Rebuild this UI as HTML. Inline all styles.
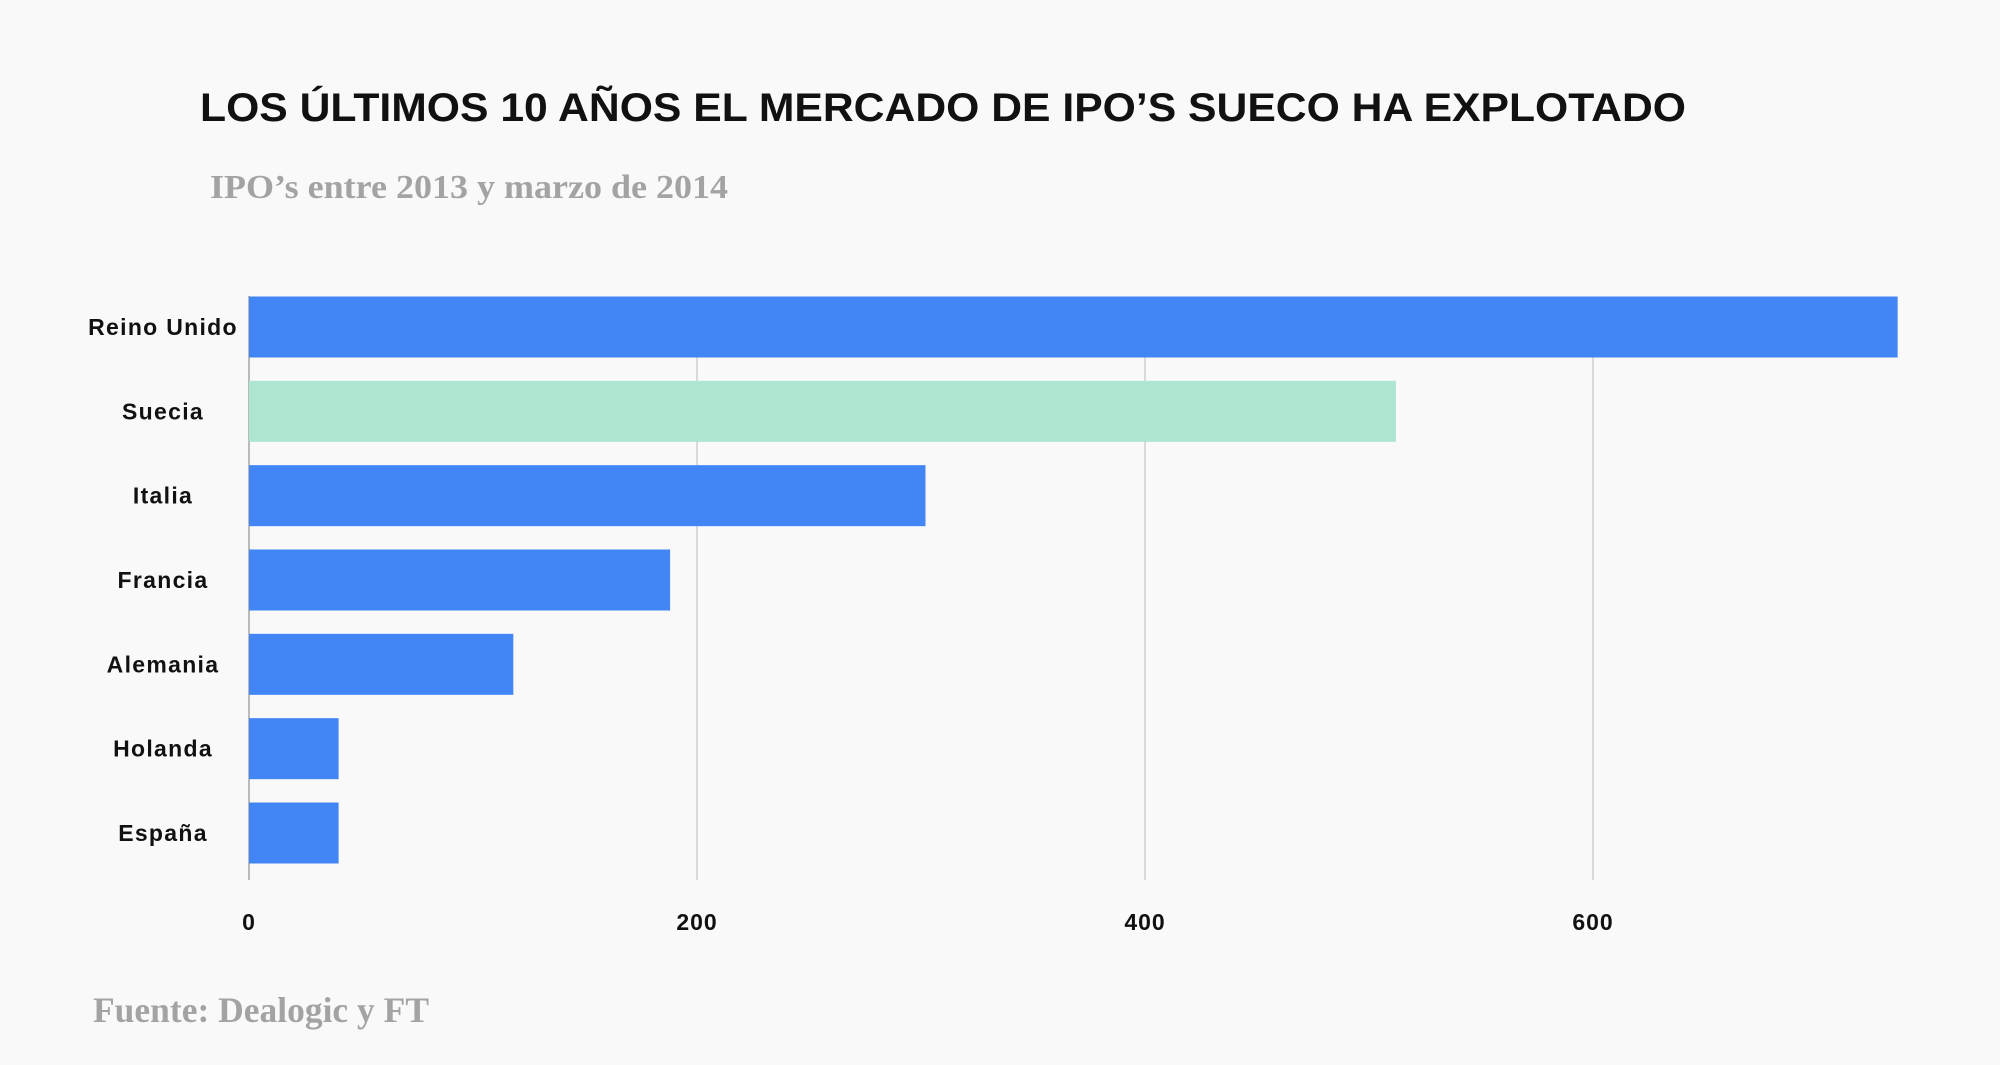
<!DOCTYPE html>
<html><head><meta charset="utf-8"><style>
html,body{margin:0;padding:0;background:#f9f9f9;}
svg{display:block}
</style></head><body>
<svg id="chart" width="2000" height="1065" viewBox="0 0 2000 1065" xmlns="http://www.w3.org/2000/svg">
<rect width="2000" height="1065" fill="#f9f9f9"/>
<text x="200" y="121" font-family="Liberation Sans, sans-serif" font-weight="bold" font-size="40" fill="#111" textLength="1486" lengthAdjust="spacingAndGlyphs">LOS ÚLTIMOS 10 AÑOS EL MERCADO DE IPO’S SUECO HA EXPLOTADO</text>
<text x="210" y="198" font-family="Liberation Serif, serif" font-weight="bold" font-size="34" fill="#a3a3a3" textLength="518" lengthAdjust="spacingAndGlyphs">IPO’s entre 2013 y marzo de 2014</text>
<text x="93" y="1022" font-family="Liberation Serif, serif" font-weight="bold" font-size="36" fill="#a3a3a3" textLength="336" lengthAdjust="spacingAndGlyphs">Fuente: Dealogic y FT</text>
<g id="grid"></g><g id="bars"></g><g id="labels"></g>
</svg>
<script>
const categories = ["Reino Unido","Suecia","Italia","Francia","Alemania","Holanda","España"];
const values = [736, 512, 302, 188, 118, 40, 40];
const highlight = ["no","yes","no","no","no","no","no"];
const ticks = [0, 200, 400, 600];
const tickLabels = ["0","200","400","600"];

const NS = "http://www.w3.org/2000/svg";
const x0 = 249, pxPer = 448/200;
const xScale = v => x0 + v*pxPer;
const yTop = 327, yStep = (833-327)/(categories.length-1), barH = 61;
const yScale = i => yTop + i*yStep;
function mk(tag, attrs, parent){const e=document.createElementNS(NS,tag);for(const k in attrs)e.setAttribute(k,attrs[k]);parent.appendChild(e);return e;}
const grid=document.getElementById('grid'), bars=document.getElementById('bars'), labels=document.getElementById('labels');
ticks.forEach((t,i)=>{
  const x=xScale(t);
  const l=mk('line',{x1:x,x2:x,y1:(i===0?296:357),y2:880,stroke:(i===0?'#999':'#c8c8c8'),'stroke-width':1.3},grid);
  
  
  const tx=mk('text',{x:x,y:930,'text-anchor':'middle','font-family':'Liberation Sans, sans-serif','font-weight':'bold','font-size':23,fill:'#111','letter-spacing':1},grid);
  tx.textContent=tickLabels[i];
  
  
});
categories.forEach((c,i)=>{
  const cy=yScale(i);
  const r=mk('rect',{x:xScale(0),y:cy-barH/2,width:xScale(values[i])-xScale(0),height:barH,fill:highlight[i]==='yes'?'#aee5d0':'#4285f4'},bars);
  
  
  const t=mk('text',{x:163,y:cy+8,'text-anchor':'middle','font-family':'Liberation Sans, sans-serif','font-weight':'bold','font-size':23,fill:'#111','letter-spacing':1.3},labels);
  t.textContent=c;
  
  
});
</script>
</body></html>
